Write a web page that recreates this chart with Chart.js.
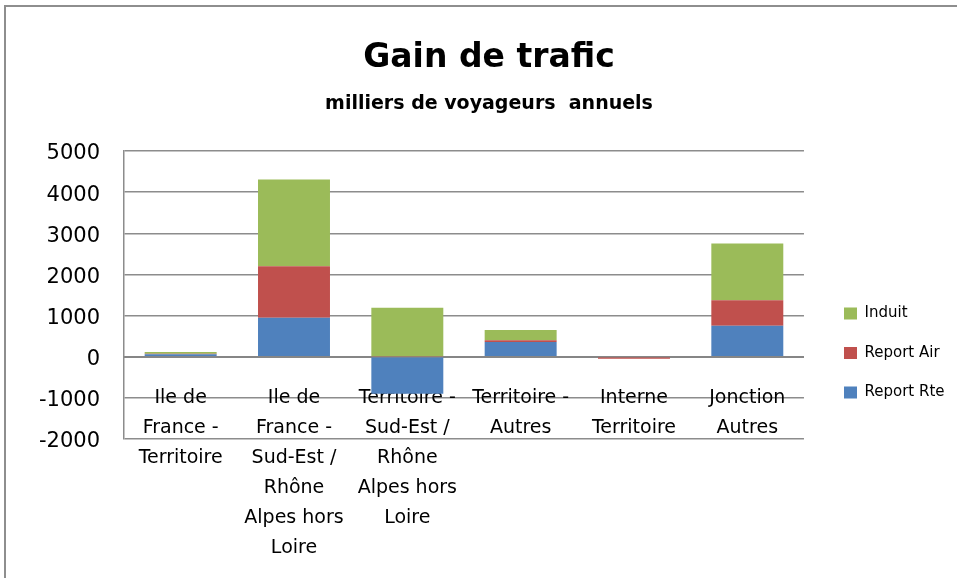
<!DOCTYPE html>
<html>
<head>
<meta charset="utf-8">
<script src="https://cdn.jsdelivr.net/npm/chart.js@4.4.1/dist/chart.umd.min.js"></script>
<style>
  body { margin: 0; background: #fff; }
  #wrap { position: relative; width: 957px; height: 578px; }
  #frame { position: absolute; left: 4px; top: 5px; right: -10px; bottom: -10px;
           border-left: 2px solid #8e8e8e; border-top: 2px solid #8e8e8e; pointer-events: none; }
</style>
</head>
<body>
<div id="wrap">
  <canvas id="trafficChart"></canvas>
  <div id="frame"></div>
</div>
<script>
const categories = [
  ['Ile de', 'France -', 'Territoire'],
  ['Ile de', 'France -', 'Sud-Est /', 'Rhône', 'Alpes hors', 'Loire'],
  ['Territoire -', 'Sud-Est /', 'Rhône', 'Alpes hors', 'Loire'],
  ['Territoire -', 'Autres'],
  ['Interne', 'Territoire'],
  ['Jonction', 'Autres']
];
const reportRte = [60, 950, -900, 360, 0, 750];
const reportAir = [10, 1250, 10, 40, -50, 620];
const induit = [45, 2110, 1180, 250, 0, 1380];
const yTicks = [-2000, 5000, 1000]; // min, max, step

const font = 'DejaVu Sans';

// legend sits lower and further right than Chart.js would put it
const legendShift = {
  id: 'legendShift',
  afterLayout(chart) {
    const lg = chart.legend;
    const dx = 819.5 - lg.left;
    lg.left += dx; lg.right += dx;
    lg.top += 133.5; lg.bottom += 133.5;
  }
};

let ctx = document.getElementById('trafficChart').getContext('2d');
let trafficChart = new Chart(ctx, {
  type: 'bar',
  plugins: [legendShift],
  data: {
    labels: categories,
    datasets: [
      { label: 'Report Rte', data: reportRte, backgroundColor: '#4f81bd' },
      { label: 'Report Air', data: reportAir, backgroundColor: '#c0504d' },
      { label: 'Induit', data: induit, backgroundColor: '#9bbb59' }
    ]
  },
  options: {
    responsive: true,
    maintainAspectRatio: false,
    animation: false,
    layout: { padding: { left: 39, right: 18, top: 0, bottom: 139 } },
    datasets: { bar: { categoryPercentage: 1, barPercentage: 0.635 } },
    plugins: {
      title: {
        display: true,
        text: 'Gain de trafic',
        color: '#000',
        font: { family: font, size: 33, weight: 'bold' },
        padding: { top: 39, bottom: 0 }
      },
      subtitle: {
        display: true,
        text: 'milliers de voyageurs  annuels',
        color: '#000',
        font: { family: font, size: 19, weight: 'bold' },
        padding: { top: 14, bottom: 35.6 }
      },
      legend: {
        position: 'right',
        reverse: true,
        labels: {
          boxWidth: 13,
          boxHeight: 12,
          padding: 24.5,
          color: '#000',
          font: { family: font, size: 15 }
        }
      },
      tooltip: { enabled: false }
    },
    scales: {
      x: {
        stacked: true,
        position: { y: 0 },
        z: 1,
        grid: { display: false },
        border: { display: true, color: '#868686', width: 2 },
        ticks: {
          color: '#000',
          autoSkip: false,
          maxRotation: 0,
          padding: 18,
          font: { family: font, size: 19, lineHeight: 1.58 }
        }
      },
      y: {
        stacked: true,
        min: yTicks[0],
        max: yTicks[1],
        afterFit(scale) { scale.width = 85; },
        grid: { color: '#8c8c8c', lineWidth: 1.5, drawTicks: false },
        border: { display: true, color: '#8c8c8c', width: 1.5 },
        ticks: {
          stepSize: yTicks[2],
          padding: 24,
          labelOffset: 3,
          color: '#000',
          font: { family: font, size: 21 },
          callback: (v) => String(v)
        }
      }
    }
  }
});
</script>
</body>
</html>
